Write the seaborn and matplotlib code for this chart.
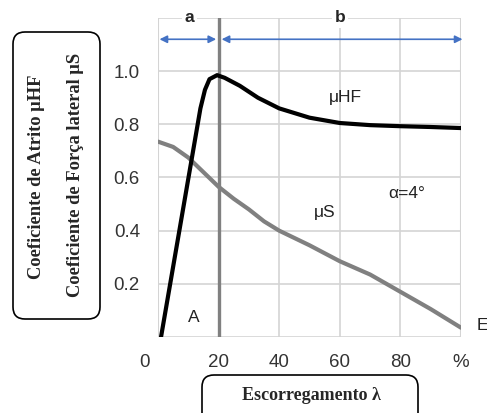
import matplotlib
matplotlib.use("Agg")
from matplotlib import pyplot as plt
from matplotlib.patches import FancyBboxPatch
from matplotlib.transforms import ScaledTranslation
import pandas as pd
import seaborn as sns

# Friction coefficient (muHF) vs slip
slip_hf = [1, 14, 15.5, 17, 19.5, 22, 27, 33, 40, 50, 60, 70, 80, 90, 100]
mu_hf = [0.0, 0.86, 0.93, 0.97, 0.985, 0.975, 0.945, 0.9, 0.86, 0.825, 0.805, 0.797, 0.793, 0.79, 0.786]

# Lateral force coefficient (muS) vs slip
slip_s = [0, 5, 10, 15, 20, 25, 30, 35, 40, 50, 60, 70, 80, 90, 100]
mu_s = [0.735, 0.715, 0.675, 0.62, 0.565, 0.52, 0.48, 0.435, 0.4, 0.345, 0.285, 0.235, 0.17, 0.105, 0.035]

x_ticks = [0, 20, 40, 60, 80, 100]
x_tick_labels = ["0", "20", "40", "60", "80", "%"]
y_ticks = [0.2, 0.4, 0.6, 0.8, 1.0]
y_grid = [0.0, 0.2, 0.4, 0.6, 0.8, 1.0, 1.2]

sns.set_style("white")
plt.rcParams["font.family"] = ["Liberation Sans", "DejaVu Sans"]

fig = plt.figure(figsize=(4.87, 4.13), dpi=100)
ax = fig.add_axes([158 / 487, 1 - 337 / 413, 303 / 487, 319 / 413])

d_hf = pd.DataFrame({"slip": slip_hf, "mu": mu_hf})
d_s = pd.DataFrame({"slip": slip_s, "mu": mu_s})

# Grid
for yv in y_grid:
    ax.axhline(yv, color="#d4d4d4", lw=1.2, zorder=0)
for xv in x_ticks:
    ax.axvline(xv, color="#d4d4d4", lw=1.5 if xv in (0, 100) else 1.2, zorder=0)
ax.axvline(20, color="#808080", lw=2.4, zorder=1)

sns.lineplot(data=d_s, x="slip", y="mu", color="#808080", lw=3, ax=ax, zorder=2)
sns.lineplot(data=d_hf, x="slip", y="mu", color="black", lw=3, ax=ax, zorder=3)

ax.set_xlim(0, 100)
ax.set_ylim(0, 1.2)
for s in ax.spines.values():
    s.set_visible(False)
ax.set_xlabel("")
ax.set_ylabel("")
ax.set_xticks(x_ticks)
ax.set_xticklabels(x_tick_labels)
ax.set_yticks(y_ticks)
ax.set_yticklabels([f"{v:.1f}" for v in y_ticks])
ax.tick_params(axis="both", length=0, labelsize=13.5, labelcolor="#333333")
ax.tick_params(axis="y", pad=13)
ax.tick_params(axis="x", pad=12)
first = ax.get_xticklabels()[0]
first.set_transform(first.get_transform() + ScaledTranslation(-0.14, 0, fig.dpi_scale_trans))

# Region arrows
arrow_kw = dict(arrowstyle="<|-|>", color="#4472C4", lw=1.2, mutation_scale=11, shrinkA=0, shrinkB=0)
ax.annotate("", xy=(0.5, 1.12), xytext=(19.2, 1.12), arrowprops=arrow_kw, annotation_clip=False)
ax.annotate("", xy=(21, 1.12), xytext=(100.5, 1.12), arrowprops=arrow_kw, annotation_clip=False)
bg = dict(facecolor="white", edgecolor="none", pad=2)
ax.text(10.3, 1.2, "a", ha="center", va="center", fontsize=12.5, fontweight="bold", bbox=bg, clip_on=False)
ax.text(60, 1.2, "b", ha="center", va="center", fontsize=12.5, fontweight="bold", bbox=bg, clip_on=False)

# Annotations inside the plot
ax.text(62, 0.9, "μHF", ha="center", va="center", fontsize=12.5, color="#222222")
ax.text(55, 0.47, "μS", ha="center", va="center", fontsize=12.5, color="#222222")
ax.text(82, 0.54, "α=4°", ha="center", va="center", fontsize=12.5, color="#222222")
ax.text(11.7, 0.075, "A", ha="center", va="center", fontsize=12.5, color="#222222")
fig.text(477 / 487, 1 - 325 / 413, "E", ha="left", va="center", fontsize=12.5, color="#222222")

# Y label box
ybox = FancyBboxPatch((0.13, 0.94), 0.87, 2.87, boxstyle="round,pad=0,rounding_size=0.12",
                      transform=fig.dpi_scale_trans, facecolor="white", edgecolor="black", lw=1.2)
fig.patches.append(ybox)
serif = dict(family="Liberation Serif", fontweight="bold", fontsize=13.3, rotation=90, ha="center", va="center")
fig.text(37 / 487, 1 - 177 / 413, "Coeficiente de Atrito μHF", **serif)
fig.text(75 / 487, 1 - 175 / 413, "Coeficiente de Força lateral μS", **serif)

# X label box
xbox = FancyBboxPatch((2.02, -0.2), 2.16, 0.58, boxstyle="round,pad=0,rounding_size=0.12",
                      transform=fig.dpi_scale_trans, facecolor="white", edgecolor="black", lw=1.2)
fig.patches.append(xbox)
fig.text(311 / 487, 1 - 395 / 413, "Escorregamento λ", family="Liberation Serif", fontweight="bold",
         fontsize=13, ha="center", va="center")

plt.savefig("out.png", dpi=100)
